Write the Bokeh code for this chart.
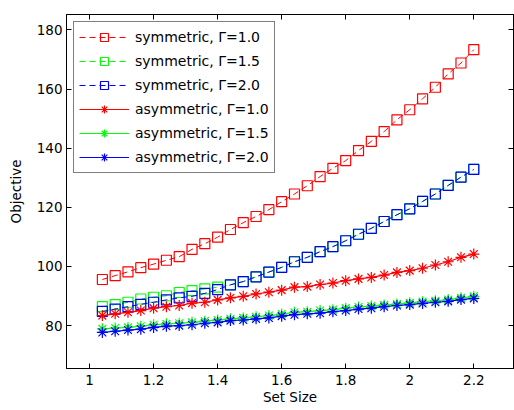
from bokeh.plotting import figure
from bokeh.models import Range1d, FixedTicker, LinearAxis, Legend, LegendItem
from bokeh.embed import file_html
from bokeh.resources import INLINE

# ---- data ----
set_size = [1.04, 1.08, 1.12, 1.16, 1.20, 1.24, 1.28, 1.32, 1.36, 1.40,
            1.44, 1.48, 1.52, 1.56, 1.60, 1.64, 1.68, 1.72, 1.76, 1.80,
            1.84, 1.88, 1.92, 1.96, 2.00, 2.04, 2.08, 2.12, 2.16, 2.20]

sym_g10 = [95.6, 96.9, 98.2, 99.6, 100.8, 102.1, 103.3, 105.8, 107.7, 109.9,
           112.5, 114.8, 116.9, 119.2, 121.9, 124.5, 127.3, 130.4, 133.2, 135.8,
           139.2, 142.3, 145.6, 149.6, 153.0, 156.7, 160.6, 165.1, 168.8, 173.3]
sym_g15 = [86.4, 87.1, 87.9, 89.0, 89.6, 90.1, 91.2, 91.8, 92.4, 93.0,
           93.8, 94.9, 96.5, 98.1, 99.7, 101.6, 103.1, 105.0, 106.7, 108.7,
           110.9, 112.9, 115.2, 117.5, 119.5, 122.0, 124.5, 127.4, 130.2, 132.8]
sym_g20 = [84.8, 85.6, 86.4, 87.2, 87.9, 88.7, 89.4, 89.9, 90.9, 92.2,
           93.8, 94.9, 96.5, 98.1, 99.7, 101.6, 103.1, 105.0, 106.7, 108.7,
           110.9, 112.9, 115.2, 117.5, 119.5, 122.0, 124.5, 127.4, 130.2, 132.8]
asym_g10 = [83.4, 84.0, 84.5, 85.1, 85.9, 86.4, 86.8, 87.6, 87.9, 88.7,
            89.4, 89.9, 90.7, 91.3, 92.0, 93.0, 93.2, 93.9, 94.4, 95.2,
            95.8, 96.3, 97.1, 98.0, 98.6, 99.4, 100.5, 101.6, 103.1, 104.2]
asym_g15 = [78.9, 79.2, 79.4, 79.8, 80.3, 80.6, 80.8, 81.1, 81.5, 81.9,
            82.3, 82.6, 83.0, 83.4, 83.9, 84.5, 84.7, 85.1, 85.4, 85.9,
            86.3, 86.6, 87.0, 87.3, 87.7, 88.1, 88.4, 88.8, 89.4, 89.9]
asym_g20 = [77.7, 78.1, 78.5, 78.8, 79.4, 79.8, 80.0, 80.3, 80.8, 81.1,
            81.7, 81.9, 82.3, 82.6, 83.2, 83.7, 84.0, 84.2, 84.7, 85.1,
            85.6, 85.9, 86.4, 86.8, 87.1, 87.5, 87.9, 88.2, 88.8, 89.2]

series_labels = ["symmetric, \u0393=1.0", "symmetric, \u0393=1.5", "symmetric, \u0393=2.0",
                 "asymmetric, \u0393=1.0", "asymmetric, \u0393=1.5", "asymmetric, \u0393=2.0"]
series_values = [sym_g10, sym_g15, sym_g20, asym_g10, asym_g15, asym_g20]
series_colors = ["#ff0000", "#00ff00", "#0000ff", "#ff0000", "#00ff00", "#0000ff"]
series_kind = ["sym", "sym", "sym", "asym", "asym", "asym"]

x_ticks = [1.0, 1.2, 1.4, 1.6, 1.8, 2.0, 2.2]
x_tick_labels = ["1", "1.2", "1.4", "1.6", "1.8", "2", "2.2"]
y_ticks = [80, 100, 120, 140, 160, 180]

FONT = "DejaVu Sans"

p = figure(width=514, height=410, output_backend="svg", toolbar_location=None,
           x_range=Range1d(0.928, 2.324), y_range=Range1d(65.5, 185.2),
           min_border_left=66, min_border_right=1, min_border_top=14, min_border_bottom=42,
           background_fill_color="white", border_fill_color="white")

p.xgrid.grid_line_color = None
p.ygrid.grid_line_color = None
p.outline_line_color = "black"
p.outline_line_width = 1

for ax in (p.xaxis[0], p.yaxis[0]):
    ax.major_tick_in = 5
    ax.major_tick_out = 0
    ax.minor_tick_line_color = None
    ax.axis_line_color = "black"
    ax.major_tick_line_color = "black"
    ax.major_label_text_font = FONT
    ax.major_label_text_font_size = "13.5px"
    ax.major_label_text_color = "black"
    ax.axis_label_text_font = FONT
    ax.axis_label_text_font_size = "13.5px"
    ax.axis_label_text_font_style = "normal"
    ax.axis_label_text_color = "black"

p.xaxis.ticker = FixedTicker(ticks=x_ticks)
p.xaxis.major_label_overrides = {t: l for t, l in zip(x_ticks, x_tick_labels)}
p.yaxis.ticker = FixedTicker(ticks=y_ticks)
p.xaxis.axis_label = "Set Size"
p.yaxis.axis_label = "Objective"
p.xaxis.major_label_standoff = 6
p.xaxis.axis_label_standoff = 1
p.yaxis.major_label_standoff = 4
p.yaxis.axis_label_standoff = 10

# mirrored tick marks on the top and right edges (no labels)
top = LinearAxis(ticker=FixedTicker(ticks=x_ticks),
                 major_label_overrides={t: "" for t in x_ticks},
                 major_label_text_font_size="1px",
                 major_label_standoff=0, major_tick_in=5, major_tick_out=0,
                 minor_tick_line_color=None, axis_line_color="black")
right = LinearAxis(ticker=FixedTicker(ticks=y_ticks),
                   major_label_overrides={t: "" for t in y_ticks},
                   major_label_text_font_size="1px",
                   major_label_standoff=0, major_tick_in=5, major_tick_out=0,
                   minor_tick_line_color=None, axis_line_color="black")
p.add_layout(top, "above")
p.add_layout(right, "right")

items = []
for lab, vals, col, kind in zip(series_labels, series_values, series_colors, series_kind):
    if kind == "sym":
        lr = p.line(x=set_size, y=vals, line_color=col, line_width=1, line_dash="6 4")
        sr = p.scatter(x=set_size, y=vals, marker="square", size=10, line_color=col,
                       fill_color=None, line_width=1.2)
    else:
        lr = p.line(x=set_size, y=vals, line_color=col, line_width=1.2)
        sr = p.scatter(x=set_size, y=vals, marker="asterisk", size=11, line_color=col,
                       line_width=1.2)
    items.append(LegendItem(label=lab, renderers=[lr, sr]))

legend = Legend(items=items, location="top_left", margin=7, padding=5, spacing=4,
                glyph_width=50, glyph_height=20, label_height=20, label_standoff=6,
                border_line_color="black", border_line_width=1,
                background_fill_color="white", background_fill_alpha=1,
                label_text_font=FONT, label_text_font_size="14px", label_text_color="black")
p.add_layout(legend)

open("out.html", "w").write(file_html(p, INLINE))
